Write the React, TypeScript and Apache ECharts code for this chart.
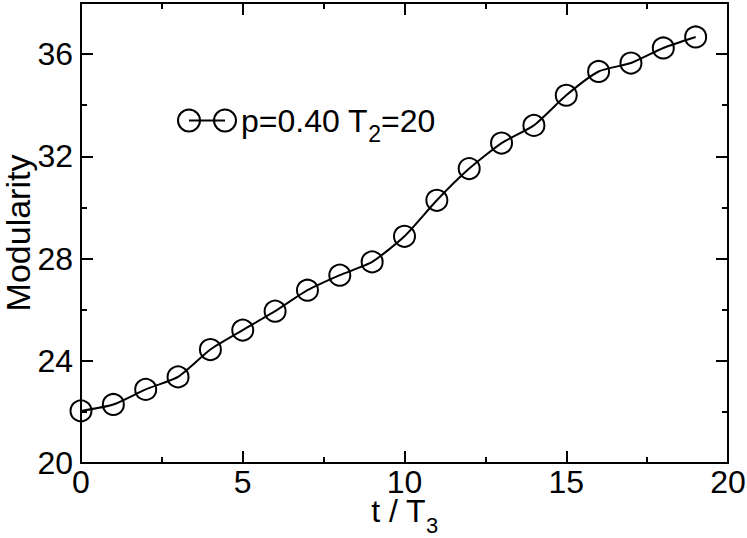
import React, { useEffect, useRef } from "react";
import * as echarts from "echarts";

const tValues = [0, 1, 2, 3, 4, 5, 6, 7, 8, 9, 10, 11, 12, 13, 14, 15, 16, 17, 18, 19];
const modularity = [
  22.04, 22.29, 22.88, 23.37, 24.44, 25.2, 25.94, 26.76, 27.35, 27.87,
  28.87, 30.28, 31.52, 32.52, 33.21, 34.39, 35.32, 35.65, 36.24, 36.67,
];
const seriesName = "p=0.40 T2=20";
const legendLabel = "p=0.40 T{sub|2}=20";
const xAxisName = "t / T{sub|3}";
const yAxisName = "Modularity";

const FONT = "'Liberation Sans', Arial, Helvetica, sans-serif";
const FS = 32;

export default function App() {
  const ref = useRef<HTMLDivElement>(null);
  useEffect(() => {
    if (!ref.current) return;
    const chart = echarts.init(ref.current, undefined, { renderer: "svg" });
    const axisLine = { show: true, lineStyle: { color: "#000", width: 2 } };
    const xCommon = { type: "value", min: 0, max: 20, interval: 5, splitLine: { show: false } };
    const yCommon = { type: "value", min: 20, max: 38, splitLine: { show: false } };
    chart.setOption({
      animation: false,
      backgroundColor: "#fff",
      textStyle: { fontFamily: FONT },
      grid: { left: 81, right: 19, top: 3, bottom: 75, containLabel: false, outerBoundsMode: "none" },
      legend: {
        show: true,
        left: 177,
        top: 96,
        padding: 0,
        itemWidth: 58,
        itemHeight: 22,
        icon: "path://M0,11 A11,11 0 1,1 22,11 A11,11 0 1,1 0,11 Z M11,11 L47,11 M36,11 A11,11 0 1,1 58,11 A11,11 0 1,1 36,11 Z",
        itemStyle: { color: "rgba(0,0,0,0)", borderColor: "#000", borderWidth: 2 },
        formatter: () => legendLabel,
        textStyle: {
          fontFamily: FONT,
          fontSize: FS,
          color: "#000",
          padding: [0, 0, 0, 0],
          rich: {
            sub: { fontFamily: FONT, fontSize: 23, color: "#000", lineHeight: 23, padding: [26, 0, 0, 0] },
          },
        },
      },
      xAxis: [
        {
          ...xCommon,
          position: "bottom",
          axisLine,
          axisTick: { show: true, inside: true, length: 12, lineStyle: { color: "#000", width: 2 } },
          minorTick: { show: true, splitNumber: 2, length: 6, lineStyle: { color: "#000", width: 2 } },
          axisLabel: { show: true, color: "#000", fontSize: FS, fontFamily: FONT, margin: 8, lineHeight: 22 },
          name: xAxisName,
          nameLocation: "middle",
          nameGap: 38,
          nameMoveOverlap: false,
          nameTextStyle: {
            color: "#000",
            fontSize: FS,
            fontFamily: FONT,
            lineHeight: 20,
            rich: {
              sub: { fontFamily: FONT, fontSize: 22, color: "#000", lineHeight: 20, padding: [28, 0, 0, 0] },
            },
          },
        },
        {
          ...xCommon,
          position: "top",
          axisLine,
          axisTick: { show: true, inside: true, length: 12, lineStyle: { color: "#000", width: 2 } },
          minorTick: { show: true, splitNumber: 2, length: 6, lineStyle: { color: "#000", width: 2 } },
          axisLabel: { show: false },
        },
      ],
      yAxis: [
        {
          ...yCommon,
          interval: 4,
          position: "left",
          axisLine,
          axisTick: { show: true, inside: true, length: 12, lineStyle: { color: "#000", width: 2 } },
          axisLabel: { show: true, color: "#000", fontSize: FS, fontFamily: FONT, margin: 8, showMaxLabel: false },
          name: yAxisName,
          nameLocation: "middle",
          nameGap: 46,
          nameMoveOverlap: false,
          nameTextStyle: { color: "#000", fontSize: 34, fontFamily: FONT },
        },
        {
          ...yCommon,
          interval: 2,
          position: "left",
          axisLine: { show: false },
          axisTick: { show: true, inside: true, length: 6, lineStyle: { color: "#000", width: 2 } },
          axisLabel: { show: false },
        },
        {
          ...yCommon,
          interval: 4,
          position: "right",
          axisLine,
          axisTick: { show: true, inside: true, length: 12, lineStyle: { color: "#000", width: 2 } },
          axisLabel: { show: false },
        },
        {
          ...yCommon,
          interval: 2,
          position: "right",
          axisLine: { show: false },
          axisTick: { show: true, inside: true, length: 6, lineStyle: { color: "#000", width: 2 } },
          axisLabel: { show: false },
        },
      ],
      series: [
        {
          name: seriesName,
          type: "line",
          xAxisIndex: 0,
          yAxisIndex: 0,
          data: tValues.map((t, i) => [t, modularity[i]]),
          smooth: 0.2,
          symbol: "circle",
          symbolSize: 21,
          itemStyle: { color: "rgba(0,0,0,0)", borderColor: "#000", borderWidth: 2 },
          lineStyle: { color: "#000", width: 2 },
          z: 3,
        },
      ],
    });
    return () => chart.dispose();
  }, []);
  return <div ref={ref} style={{ width: 747, height: 538, position: "absolute", left: 0, top: 0 }} />;
}
